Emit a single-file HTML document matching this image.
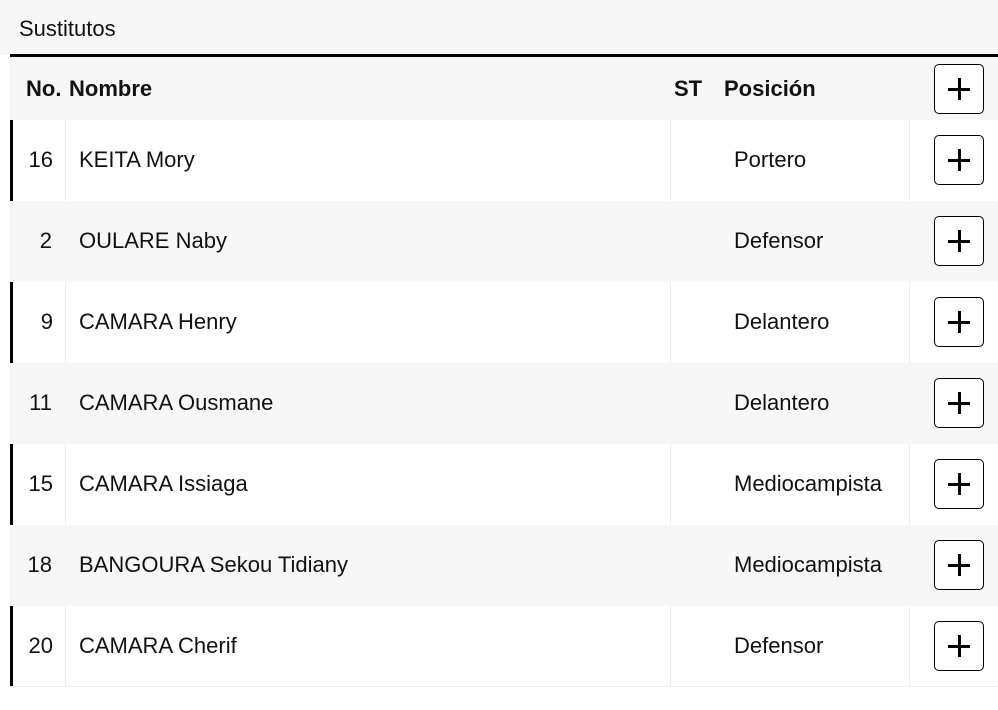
<!DOCTYPE html>
<html><head><meta charset="utf-8"><style>
html,body{margin:0;padding:0;width:998px;height:710px;background:#fff;overflow:hidden;font-family:"Liberation Sans",sans-serif;color:#111}
.top{position:absolute;left:0;top:0;width:998px;height:55px;background:#f7f7f7}
.title{position:absolute;left:19px;top:16px;font-size:22px}
.line{position:absolute;left:10px;top:54px;width:988px;height:3px;background:#000}
.row{position:absolute;left:10px;width:988px;height:81px}
.row div{position:absolute;top:0;height:100%;line-height:80px;font-size:22px}
.g{background:#f7f7f7}
.w{background:#fff;border-left:3px solid #000;box-sizing:border-box}
.d{border-right:1px solid #eeeeee}
.btn{position:absolute;left:924px;top:15px;width:48px;height:48px;border:1.5px solid #000;border-radius:5px;background:#fff}
.w .btn{left:921px}
.btn:before{content:"";position:absolute;left:13px;top:22.5px;width:22px;height:3px;background:#000}
.btn:after{content:"";position:absolute;left:22.5px;top:13px;width:3px;height:22px;background:#000}
.h div{font-weight:bold;line-height:64px}
</style></head><body>
<div class="top"><div class="title">Sustitutos</div></div>
<div class="line"></div>
<div class="row g h" style="top:57px;height:63px">
<div style="left:16px">No.</div><div style="left:59px">Nombre</div><div style="left:664px">ST</div><div style="left:714px">Posición</div>
<span class="btn" style="top:7px"></span></div>

<div class="row w" style="top:120px"><div class="d" style="left:0;width:52px;text-align:right;padding-right:0"><span style="margin-right:12px">16</span></div><div style="left:66px">KEITA Mory</div><div class="d" style="left:605px;width:52px"></div><div class="d" style="left:706px;width:191px;padding-left:15px;box-sizing:border-box">Portero</div><span class="btn"></span></div>

<div class="row g" style="top:201px"><div style="left:0;width:42px;text-align:right">2</div><div style="left:69px">OULARE Naby</div><div style="left:724px">Defensor</div><span class="btn"></span></div>

<div class="row w" style="top:282px"><div class="d" style="left:0;width:52px;text-align:right"><span style="margin-right:12px">9</span></div><div style="left:66px">CAMARA Henry</div><div class="d" style="left:605px;width:52px"></div><div class="d" style="left:706px;width:191px;padding-left:15px;box-sizing:border-box">Delantero</div><span class="btn"></span></div>

<div class="row g" style="top:363px"><div style="left:0;width:42px;text-align:right">11</div><div style="left:69px">CAMARA Ousmane</div><div style="left:724px">Delantero</div><span class="btn"></span></div>

<div class="row w" style="top:444px"><div class="d" style="left:0;width:52px;text-align:right"><span style="margin-right:12px">15</span></div><div style="left:66px">CAMARA Issiaga</div><div class="d" style="left:605px;width:52px"></div><div class="d" style="left:706px;width:191px;padding-left:15px;box-sizing:border-box">Mediocampista</div><span class="btn"></span></div>

<div class="row g" style="top:525px"><div style="left:0;width:42px;text-align:right">18</div><div style="left:69px">BANGOURA Sekou Tidiany</div><div style="left:724px">Mediocampista</div><span class="btn"></span></div>

<div class="row w" style="top:606px"><div class="d" style="left:0;width:52px;text-align:right"><span style="margin-right:12px">20</span></div><div style="left:66px">CAMARA Cherif</div><div class="d" style="left:605px;width:52px"></div><div class="d" style="left:706px;width:191px;padding-left:15px;box-sizing:border-box">Defensor</div><span class="btn"></span></div>
<div style="position:absolute;left:10px;top:686px;width:988px;height:1px;background:#eee"></div>
</body></html>
